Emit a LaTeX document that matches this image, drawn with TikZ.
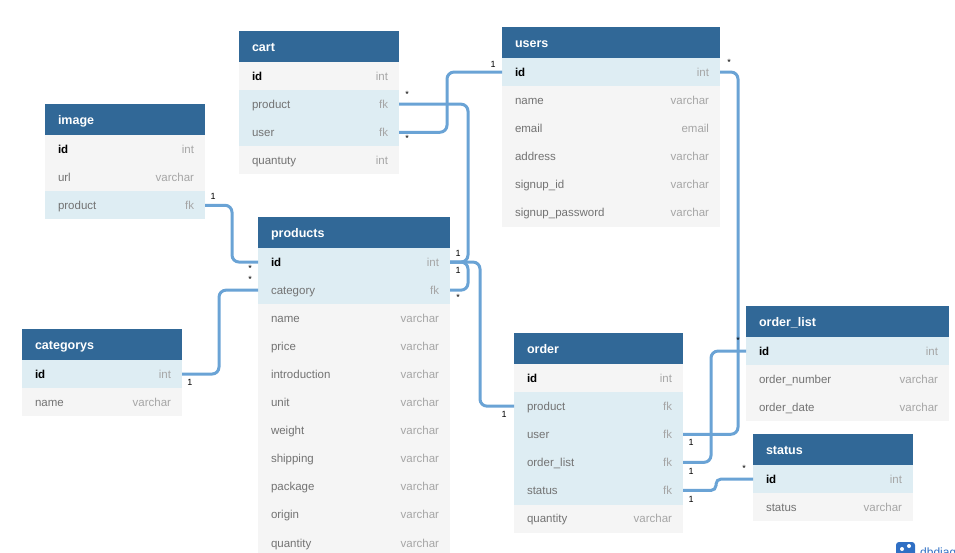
\documentclass[tikz,border=0pt]{standalone}
\usepackage{fontspec}
\setmainfont{Liberation Sans}
\usetikzlibrary{positioning}

\definecolor{headblue}{HTML}{316897}
\definecolor{rowgrey}{HTML}{F5F5F5}
\definecolor{rowkey}{HTML}{DEEDF3}
\definecolor{linkblue}{HTML}{6AA3D5}
\definecolor{logoblue}{HTML}{2F6FC4}

\newcommand{\rowtext}[2]{\hspace*{2pt}\textcolor{black!55}{#1}\hfill\textcolor{black!35}{#2}\hspace*{1pt}}
\newcommand{\idtext}[1]{\hspace*{2pt}\textbf{id}\hfill\textcolor{black!35}{#1}\hspace*{1pt}}

\begin{document}
\begin{tikzpicture}[x=1pt, y=-1pt,
    % Styles
    head/.style={anchor=north west, fill=headblue, text=white, font=\fontsize{12.5}{14}\selectfont\bfseries, minimum height=31pt, inner sep=0pt, outer sep=0pt, align=left, text height=10pt, text depth=0pt},
    row/.style={anchor=north, fill=rowgrey, font=\fontsize{11.5}{13}\selectfont, minimum height=28.1pt, inner sep=0pt, outer sep=0pt, align=left, text height=9pt, text depth=1pt},
    keyrow/.style={row, fill=rowkey},
    link/.style={draw=linkblue, line width=3pt, rounded corners=7pt},
    card/.style={font=\fontsize{9}{10}\selectfont, inner sep=0pt},
]
\useasboundingbox (0,0) rectangle (955,552);

% Cart table
\node[head, minimum width=160pt, text width=134pt] (cart) at (239,31) {cart};
\node[row, minimum width=160pt, text width=138pt] (cartid) at (cart.south) {\idtext{int}};
\node[keyrow, minimum width=160pt, text width=138pt] (cartproduct) at (cartid.south) {\rowtext{product}{fk}};
\node[keyrow, minimum width=160pt, text width=138pt] (cartuser) at (cartproduct.south) {\rowtext{user}{fk}};
\node[row, minimum width=160pt, text width=138pt] (cartquantuty) at (cartuser.south) {\rowtext{quantuty}{int}};

% Users table
\node[head, minimum width=218pt, text width=192pt] (users) at (502,27) {users};
\node[keyrow, minimum width=218pt, text width=196pt] (usersid) at (users.south) {\idtext{int}};
\node[row, minimum width=218pt, text width=196pt] (usersname) at (usersid.south) {\rowtext{name}{varchar}};
\node[row, minimum width=218pt, text width=196pt] (usersemail) at (usersname.south) {\rowtext{email}{email}};
\node[row, minimum width=218pt, text width=196pt] (usersaddress) at (usersemail.south) {\rowtext{address}{varchar}};
\node[row, minimum width=218pt, text width=196pt] (userssignupid) at (usersaddress.south) {\rowtext{signup\_id}{varchar}};
\node[row, minimum width=218pt, text width=196pt] (userssignuppw) at (userssignupid.south) {\rowtext{signup\_password}{varchar}};

% Image table
\node[head, minimum width=160pt, text width=134pt] (image) at (45,104) {image};
\node[row, minimum width=160pt, text width=138pt] (imageid) at (image.south) {\idtext{int}};
\node[row, minimum width=160pt, text width=138pt] (imageurl) at (imageid.south) {\rowtext{url}{varchar}};
\node[keyrow, minimum width=160pt, text width=138pt] (imageproduct) at (imageurl.south) {\rowtext{product}{fk}};

% Categorys table
\node[head, minimum width=160pt, text width=134pt] (categorys) at (22,329) {categorys};
\node[keyrow, minimum width=160pt, text width=138pt] (categorysid) at (categorys.south) {\idtext{int}};
\node[row, minimum width=160pt, text width=138pt] (categorysname) at (categorysid.south) {\rowtext{name}{varchar}};

% Products table
\node[head, minimum width=192pt, text width=166pt] (products) at (258,217) {products};
\node[keyrow, minimum width=192pt, text width=170pt] (productsid) at (products.south) {\idtext{int}};
\node[keyrow, minimum width=192pt, text width=170pt] (productscategory) at (productsid.south) {\rowtext{category}{fk}};
\node[row, minimum width=192pt, text width=170pt] (productsname) at (productscategory.south) {\rowtext{name}{varchar}};
\node[row, minimum width=192pt, text width=170pt] (productsprice) at (productsname.south) {\rowtext{price}{varchar}};
\node[row, minimum width=192pt, text width=170pt] (productsintro) at (productsprice.south) {\rowtext{introduction}{varchar}};
\node[row, minimum width=192pt, text width=170pt] (productsunit) at (productsintro.south) {\rowtext{unit}{varchar}};
\node[row, minimum width=192pt, text width=170pt] (productsweight) at (productsunit.south) {\rowtext{weight}{varchar}};
\node[row, minimum width=192pt, text width=170pt] (productsshipping) at (productsweight.south) {\rowtext{shipping}{varchar}};
\node[row, minimum width=192pt, text width=170pt] (productspackage) at (productsshipping.south) {\rowtext{package}{varchar}};
\node[row, minimum width=192pt, text width=170pt] (productsorigin) at (productspackage.south) {\rowtext{origin}{varchar}};
\node[row, minimum width=192pt, text width=170pt] (productsquantity) at (productsorigin.south) {\rowtext{quantity}{varchar}};

% Order table
\node[head, minimum width=169pt, text width=143pt] (order) at (514,333) {order};
\node[row, minimum width=169pt, text width=147pt] (orderid) at (order.south) {\idtext{int}};
\node[keyrow, minimum width=169pt, text width=147pt] (orderproduct) at (orderid.south) {\rowtext{product}{fk}};
\node[keyrow, minimum width=169pt, text width=147pt] (orderuser) at (orderproduct.south) {\rowtext{user}{fk}};
\node[keyrow, minimum width=169pt, text width=147pt] (orderlist) at (orderuser.south) {\rowtext{order\_list}{fk}};
\node[keyrow, minimum width=169pt, text width=147pt] (orderstatus) at (orderlist.south) {\rowtext{status}{fk}};
\node[row, minimum width=169pt, text width=147pt] (orderquantity) at (orderstatus.south) {\rowtext{quantity}{varchar}};

% Order list table
\node[head, minimum width=203pt, text width=177pt] (orderlisttab) at (746,306) {order\_list};
\node[keyrow, minimum width=203pt, text width=181pt] (orderlistid) at (orderlisttab.south) {\idtext{int}};
\node[row, minimum width=203pt, text width=181pt] (orderlistnumber) at (orderlistid.south) {\rowtext{order\_number}{varchar}};
\node[row, minimum width=203pt, text width=181pt] (orderlistdate) at (orderlistnumber.south) {\rowtext{order\_date}{varchar}};

% Status table
\node[head, minimum width=160pt, text width=134pt] (status) at (753,434) {status};
\node[keyrow, minimum width=160pt, text width=138pt] (statusid) at (status.south) {\idtext{int}};
\node[row, minimum width=160pt, text width=138pt] (statusstatus) at (statusid.south) {\rowtext{status}{varchar}};

% Links
\draw[link] (cartproduct.east) -- ++(69,0) |- (productsid.east);
\draw[link] (cartuser.east) -- ++(48,0) |- (usersid.west);
\draw[link] (imageproduct.east) -- ++(27,0) |- (productsid.west);
\draw[link] (categorysid.east) -- ++(37,0) |- (productscategory.west);
\draw[link] (productscategory.east) -- ++(18,0) |- (productsid.east);
\draw[link] (orderproduct.west) -- ++(-34,0) |- (productsid.east);
\draw[link] (orderuser.east) -- ++(55,0) |- (usersid.east);
\draw[link] (orderlist.east) -- ++(28,0) |- (orderlistid.west);
\draw[link, rounded corners=5pt] (orderstatus.east) -- ++(33,0) |- (statusid.west);

% Cardinalities
\node[card] (c1) at (407,94) {*};
\node[card] (c2) at (407,138) {*};
\node[card] (c3) at (493,64) {1};
\node[card] (c4) at (729,62) {*};
\node[card] (c5) at (213,196) {1};
\node[card] (c6) at (250,268) {*};
\node[card] (c7) at (250,279) {*};
\node[card] (c8) at (190,382) {1};
\node[card] (c9) at (458,253) {1};
\node[card] (c10) at (458,270) {1};
\node[card] (c11) at (458,297) {*};
\node[card] (c12) at (504,414) {1};
\node[card] (c13) at (691,442) {1};
\node[card] (c14) at (738,340) {*};
\node[card] (c15) at (691,471) {1};
\node[card] (c16) at (691,499) {1};
\node[card] (c17) at (744,468) {*};

% Logo
\fill[logoblue, rounded corners=3pt] (896,542) rectangle (915,562);
\fill[white] (902,549) circle (2pt) (909,546) circle (2pt);
\node[anchor=base west, inner sep=0pt, text=logoblue, font=\fontsize{12}{14}\selectfont] (logo) at (920,556) {dbdiag};

\end{tikzpicture}
\end{document}
